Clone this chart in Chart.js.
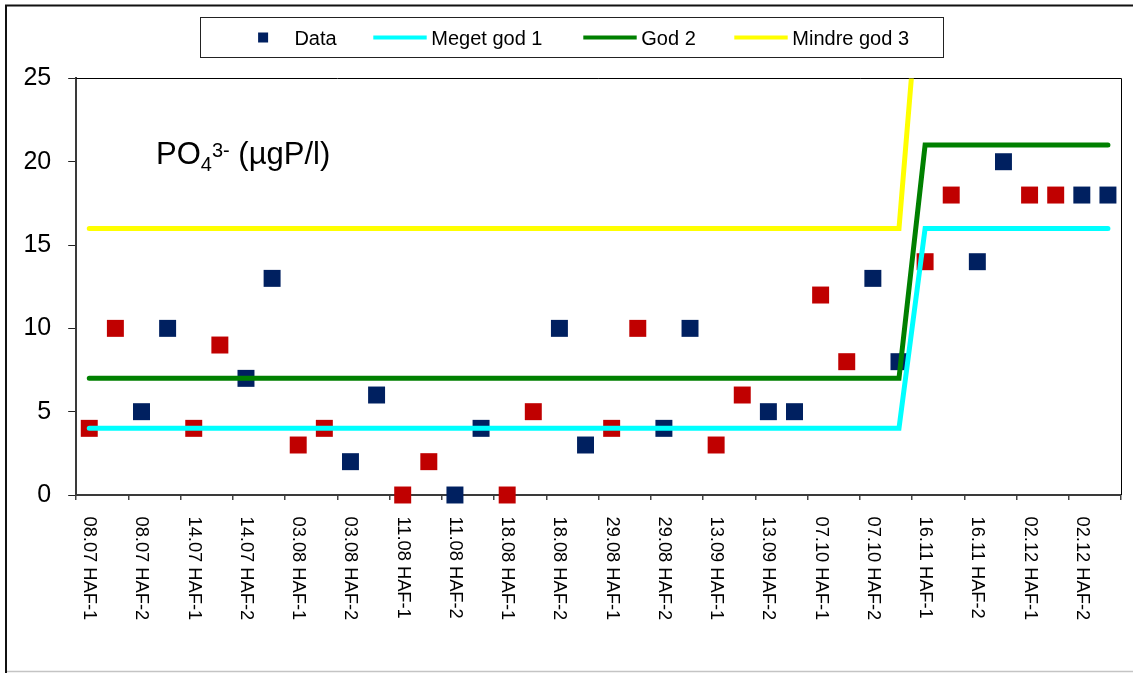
<!DOCTYPE html>
<html>
<head>
<meta charset="utf-8">
<title>PO4 HAF</title>
<script src="https://cdn.jsdelivr.net/npm/chart.js@4.4.1/dist/chart.umd.min.js"></script>
<style>
  html, body { margin: 0; padding: 0; background: #fff; overflow: hidden; }
  canvas { display: block; }
</style>
</head>
<body>
<canvas id="chart" width="1133" height="673"></canvas>
<script>
// Two samples per station and date
const categories = [
  '08.07 HAF-1', '08.07 HAF-1', '08.07 HAF-2', '08.07 HAF-2',
  '14.07 HAF-1', '14.07 HAF-1', '14.07 HAF-2', '14.07 HAF-2',
  '03.08 HAF-1', '03.08 HAF-1', '03.08 HAF-2', '03.08 HAF-2',
  '11.08 HAF-1', '11.08 HAF-1', '11.08 HAF-2', '11.08 HAF-2',
  '18.08 HAF-1', '18.08 HAF-1', '18.08 HAF-2', '18.08 HAF-2',
  '29.08 HAF-1', '29.08 HAF-1', '29.08 HAF-2', '29.08 HAF-2',
  '13.09 HAF-1', '13.09 HAF-1', '13.09 HAF-2', '13.09 HAF-2',
  '07.10 HAF-1', '07.10 HAF-1', '07.10 HAF-2', '07.10 HAF-2',
  '16.11 HAF-1', '16.11 HAF-1', '16.11 HAF-2', '16.11 HAF-2',
  '02.12 HAF-1', '02.12 HAF-1', '02.12 HAF-2', '02.12 HAF-2'
];

// Measured PO4 (µgP/l)
const measured = [
  4, 10, 5, 10,
  4, 9, 7, 13,
  3, 4, 2, 6,
  0, 2, 0, 4,
  0, 5, 10, 3,
  4, 10, 4, 10,
  3, 6, 5, 5,
  12, 8, 13, 8,
  14, 18, 14, 20,
  18, 18, 18, 18
];

// Class boundaries (summer limits, then winter limits)
const megetGod1 = [
  4, 4, 4, 4, 4, 4, 4, 4, 4, 4, 4, 4, 4, 4, 4, 4,
  4, 4, 4, 4, 4, 4, 4, 4, 4, 4, 4, 4, 4, 4, 4, 4,
  16, 16, 16, 16, 16, 16, 16, 16
];
const god2 = [
  7, 7, 7, 7, 7, 7, 7, 7, 7, 7, 7, 7, 7, 7, 7, 7,
  7, 7, 7, 7, 7, 7, 7, 7, 7, 7, 7, 7, 7, 7, 7, 7,
  21, 21, 21, 21, 21, 21, 21, 21
];
const mindreGod3 = [
  16, 16, 16, 16, 16, 16, 16, 16, 16, 16, 16, 16, 16, 16, 16, 16,
  16, 16, 16, 16, 16, 16, 16, 16, 16, 16, 16, 16, 16, 16, 16, 16,
  35, 35, 35, 35, 35, 35, 35, 35
];

const yTicks = [0, 5, 10, 15, 20, 25];

const FONT = '"Liberation Sans", Arial, Helvetica, sans-serif';
const NAVY = '#002060';
const RED = '#C00000';

// Outer frame, plot box, rotated category labels, formula label and boxed legend
const decorations = {
  id: 'decorations',
  beforeDraw(chart) {
    const c = chart.ctx;
    c.save();
    c.fillStyle = '#ffffff';
    c.fillRect(0, 0, chart.width, chart.height);
    c.strokeStyle = '#111111';
    c.lineWidth = 2;
    c.beginPath();
    c.moveTo(6, chart.height);
    c.lineTo(6, 5.5);
    c.lineTo(chart.width, 5.5);
    c.stroke();
    c.strokeStyle = '#c4c4c4';
    c.lineWidth = 1.5;
    c.beginPath();
    c.moveTo(7, 671.5);
    c.lineTo(chart.width, 671.5);
    c.stroke();
    c.restore();
  },
  beforeDatasetsDraw(chart) {
    const a = chart.chartArea;
    const c = chart.ctx;
    c.save();
    c.strokeStyle = '#000000';
    c.lineWidth = 1;
    c.beginPath();
    c.moveTo(a.left, Math.round(a.top) + 0.5);
    c.lineTo(Math.round(a.right) + 0.5, Math.round(a.top) + 0.5);
    c.lineTo(Math.round(a.right) + 0.5, a.bottom);
    c.stroke();
    c.restore();
  },
  afterDraw(chart) {
    const c = chart.ctx;
    const xs = chart.scales.x;
    c.save();

    // category labels, every second sample, reading downwards
    c.fillStyle = '#000000';
    c.font = '18.3px ' + FONT;
    c.textAlign = 'left';
    c.textBaseline = 'middle';
    categories.forEach((lab, i) => {
      if (i % 2 !== 0) return;
      const x = xs.getPixelForValue(i);
      c.save();
      c.translate(x, 516.5);
      c.rotate(Math.PI / 2);
      c.fillText(lab, 0, 0);
      c.restore();
    });

    // formula label inside the plot
    c.textBaseline = 'alphabetic';
    let tx = 156;
    const base = 163.5;
    c.font = '31px ' + FONT;
    c.fillText('PO', tx, base);
    tx += c.measureText('PO').width;
    c.font = '20px ' + FONT;
    c.fillText('4', tx, base + 7);
    tx += c.measureText('4').width;
    c.fillText('3-', tx, base - 7);
    tx += c.measureText('3-').width;
    c.font = '31px ' + FONT;
    c.fillText(' (\u00B5gP/l)', tx, base);

    // legend box
    c.fillStyle = '#ffffff';
    c.fillRect(200.5, 17.5, 743, 40);
    c.strokeStyle = '#222222';
    c.lineWidth = 1;
    c.strokeRect(200.5, 17.5, 743, 40);

    const starts = [236.4, 373.3, 583.3, 734.3];
    const symW = 53.4;
    const midY = 37.5;
    c.font = '20px ' + FONT;
    chart.data.datasets.forEach((ds, i) => {
      const sx = starts[i];
      if (ds.showLine === false) {
        c.fillStyle = NAVY;
        c.fillRect(sx + symW / 2 - 5, midY - 5, 10, 10);
      } else {
        c.strokeStyle = ds.borderColor;
        c.lineWidth = 4;
        c.lineCap = 'butt';
        c.beginPath();
        c.moveTo(sx, midY);
        c.lineTo(sx + symW, midY);
        c.stroke();
      }
      c.fillStyle = '#000000';
      c.fillText(ds.label, sx + symW + 4.6, 45);
    });
    c.restore();
  }
};

const isStation1 = (i) => categories[i].endsWith('HAF-1');

new Chart(document.getElementById('chart'), {
  type: 'line',
  data: {
    labels: categories,
    datasets: [
      {
        label: 'Data',
        data: measured,
        showLine: false,
        pointStyle: 'rect',
        pointRadius: 12,
        pointHoverRadius: 12,
        pointBorderWidth: 0,
        pointBackgroundColor: (ctx) => isStation1(ctx.dataIndex) ? RED : NAVY,
        pointBorderColor: (ctx) => isStation1(ctx.dataIndex) ? RED : NAVY,
        clip: false,
        order: 4
      },
      {
        label: 'Meget god 1',
        data: megetGod1,
        borderColor: '#00FFFF',
        borderWidth: 5,
        borderCapStyle: 'round',
        pointRadius: 0,
        fill: false,
        tension: 0,
        order: 3
      },
      {
        label: 'God 2',
        data: god2,
        borderColor: '#008000',
        borderWidth: 5,
        borderCapStyle: 'round',
        pointRadius: 0,
        fill: false,
        tension: 0,
        order: 2
      },
      {
        label: 'Mindre god 3',
        data: mindreGod3,
        borderColor: '#FFFF00',
        borderWidth: 5,
        borderCapStyle: 'round',
        pointRadius: 0,
        fill: false,
        tension: 0,
        order: 1
      }
    ]
  },
  options: {
    responsive: false,
    animation: false,
    events: [],
    layout: { padding: { top: 78.4, right: 10.7, bottom: 0, left: 0 } },
    plugins: {
      legend: { display: false },
      tooltip: { enabled: false },
      title: { display: false }
    },
    scales: {
      x: {
        type: 'category',
        offset: true,
        grid: {
          display: true,
          offset: true,
          drawOnChartArea: false,
          drawTicks: true,
          tickLength: 5,
          lineWidth: 1.5,
          color: (ctx) => (ctx.index === undefined || ctx.index % 2 === 0) ? '#444444' : 'rgba(0,0,0,0)'
        },
        border: { display: true, color: '#3a3a3a', width: 2 },
        ticks: { display: false, autoSkip: false },
        afterFit: (scale) => { scale.height = 178; }
      },
      y: {
        min: 0,
        max: 25,
        afterBuildTicks: (scale) => { scale.ticks = yTicks.map(v => ({ value: v })); },
        grid: {
          display: true,
          drawOnChartArea: false,
          drawTicks: true,
          tickLength: 8,
          lineWidth: 1,
          color: '#222222'
        },
        border: { display: true, color: '#3a3a3a', width: 2 },
        ticks: {
          color: '#000000',
          padding: 17,
          font: { family: FONT, size: 25 }
        },
        afterFit: (scale) => { scale.width = 76.2; }
      }
    }
  },
  plugins: [decorations]
});
</script>
</body>
</html>
